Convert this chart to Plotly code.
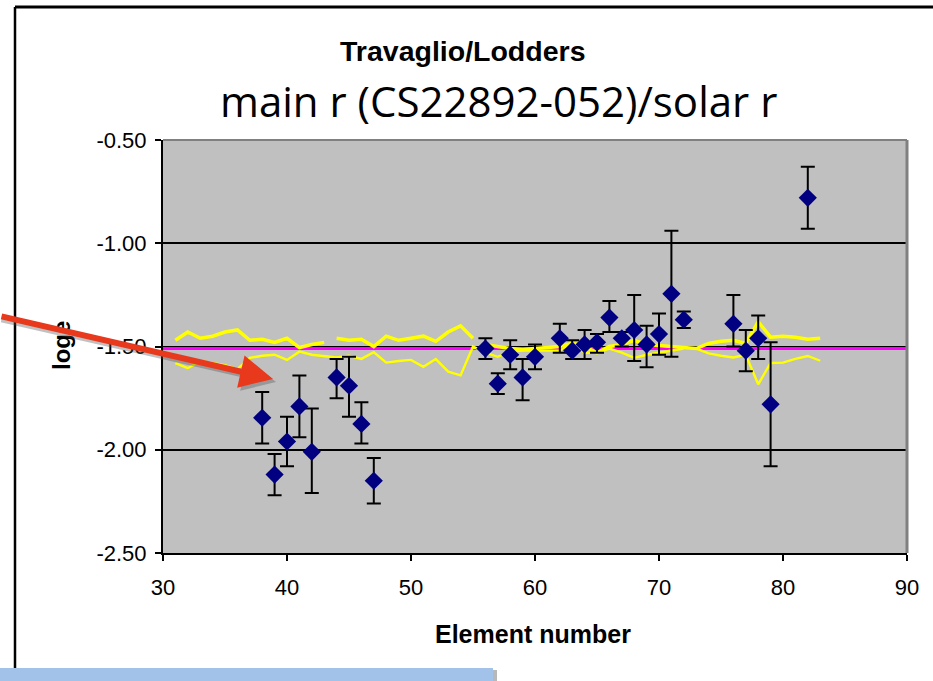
import plotly.graph_objects as go

# ---------------- data ----------------
element = [38, 39, 40, 41, 42, 44, 45, 46, 47, 56, 57, 58, 59, 60, 62, 63, 64, 65,
           66, 67, 68, 69, 70, 71, 72, 76, 77, 78, 79, 82]
log_eps = [-1.845, -2.12, -1.96, -1.79, -2.01, -1.65, -1.69, -1.875, -2.15, -1.51,
           -1.68, -1.54, -1.65, -1.55, -1.46, -1.52, -1.49, -1.48, -1.36, -1.46,
           -1.42, -1.49, -1.44, -1.245, -1.37, -1.39, -1.52, -1.46, -1.78, -0.78]
err_top = [-1.72, -2.02, -1.84, -1.64, -1.80, -1.56, -1.55, -1.77, -2.04, -1.46,
           -1.63, -1.47, -1.56, -1.49, -1.39, -1.47, -1.42, -1.44, -1.28, -1.43,
           -1.25, -1.40, -1.34, -0.94, -1.33, -1.25, -1.42, -1.35, -1.48, -0.63]
err_bot = [-1.97, -2.22, -2.08, -1.94, -2.21, -1.75, -1.84, -1.97, -2.26, -1.56,
           -1.73, -1.61, -1.76, -1.61, -1.53, -1.56, -1.56, -1.53, -1.43, -1.50,
           -1.57, -1.60, -1.54, -1.55, -1.41, -1.50, -1.62, -1.56, -2.08, -0.93]

# yellow band, upper curve (None = gap)
band_hi_z = [31, 32, 33, 34, 35, 36, 37, 38, 39, 40, 41, 42, 43, 43.5, 44, 45, 46, 47,
             48, 49, 50, 51, 52, 53, 54, 55, 55.5, 56, 57, 58, 59, 60, 61, 62, 63, 64,
             65, 66, 67, 68, 69, 70, 71, 72, 73, 74, 75, 76, 77, 78, 79, 80, 81, 82, 83]
band_hi = [-1.47, -1.43, -1.46, -1.45, -1.43, -1.42, -1.47, -1.465, -1.48, -1.46,
           -1.505, -1.49, -1.48, None, -1.46, -1.47, -1.465, -1.50, -1.45, -1.47,
           -1.46, -1.45, -1.475, -1.43, -1.40, -1.46, None, -1.49, -1.50, -1.51,
           -1.515, -1.51, -1.505, -1.50, -1.485, -1.50, -1.53, -1.50, -1.49, -1.47,
           -1.49, -1.495, -1.50, -1.505, -1.51, -1.485, -1.475, -1.47, -1.485,
           -1.38, -1.455, -1.45, -1.455, -1.465, -1.46]
# yellow band, lower curve
band_lo_z = list(range(31, 84))
band_lo = [-1.58, -1.605, -1.57, -1.58, -1.59, -1.61, -1.555, -1.545, -1.54, -1.565,
           -1.525, -1.54, -1.545, -1.553, -1.545, -1.56, -1.528, -1.578, -1.57,
           -1.565, -1.598, -1.561, -1.622, -1.64, -1.50, -1.53, -1.55, -1.525,
           -1.52, -1.52, -1.52, -1.52, -1.48, -1.53, -1.53, -1.51, -1.53, -1.555,
           -1.54, -1.53, -1.517, -1.51, -1.51, -1.533, -1.545, -1.553, -1.54,
           -1.683, -1.58, -1.578, -1.56, -1.546, -1.569]

solar_level = -1.51
x_ticks = [30, 40, 50, 60, 70, 80, 90]
y_ticks = [-2.5, -2.0, -1.5, -1.0, -0.5]
y_ticktext = ["-2.50", "-2.00", "-1.50", "-1.00", "-0.50"]

W, H = 933, 681
L, R, T, B = 163, 26, 140, 128
pw, ph = W - L - R, H - T - B


def px(xp):
    return (xp - L) / pw


def py(yp):
    return (H - B - yp) / ph


fig = go.Figure()

fig.add_trace(go.Scatter(x=[30, 90], y=[solar_level, solar_level], mode="lines",
                         line=dict(color="#FF00FF", width=3), hoverinfo="skip"))
fig.add_trace(go.Scatter(x=band_hi_z, y=band_hi, mode="lines", connectgaps=False,
                         line=dict(color="#FFFF00", width=3.5), hoverinfo="skip"))
fig.add_trace(go.Scatter(x=band_lo_z, y=band_lo, mode="lines",
                         line=dict(color="#FFFF00", width=2.4), hoverinfo="skip"))

plus = [t - v for t, v in zip(err_top, log_eps)]
minus = [v - b for v, b in zip(log_eps, err_bot)]
fig.add_trace(go.Scatter(
    x=element, y=log_eps, mode="markers",
    marker=dict(symbol="diamond", size=14, color="#000080"),
    error_y=dict(type="data", array=plus, arrayminus=minus, symmetric=False,
                 color="black", thickness=2, width=7),
))

axis_font = dict(family="Liberation Sans, Arial, sans-serif", size=22, color="black")

fig.update_layout(
    width=W, height=H,
    margin=dict(l=L, r=R, t=T, b=B),
    paper_bgcolor="white",
    plot_bgcolor="#C0C0C0",
    showlegend=False,
    xaxis=dict(range=[30, 90], tickvals=x_ticks, showgrid=False, zeroline=False,
               showline=True, linecolor="black", linewidth=2,
               ticks="outside", ticklen=6, tickwidth=1.5, tickcolor="black",
               tickfont=axis_font, ticklabelstandoff=8),
    yaxis=dict(range=[-2.5, -0.5], tickvals=y_ticks, ticktext=y_ticktext,
               showgrid=True, gridcolor="black", gridwidth=2, zeroline=False,
               showline=True, linecolor="black", linewidth=2,
               ticks="outside", ticklen=6, tickwidth=1.5, tickcolor="black",
               tickfont=axis_font, ticklabelstandoff=4),
)

shapes = [
    # plot area border (top, right)
    dict(type="line", xref="paper", yref="paper", x0=0, x1=1, y0=1, y1=1,
         line=dict(color="#808080", width=2)),
    dict(type="line", xref="paper", yref="paper", x0=1, x1=1, y0=0, y1=1,
         line=dict(color="#808080", width=3)),
    # outer chart border
    dict(type="line", xref="paper", yref="paper", x0=px(15), x1=px(940),
         y0=py(7), y1=py(7), line=dict(color="black", width=3)),
    dict(type="line", xref="paper", yref="paper", x0=px(15), x1=px(15),
         y0=py(7), y1=py(672), line=dict(color="black", width=2.5)),
    # blue bar at bottom (shadow + box)
    dict(type="rect", xref="paper", yref="paper", x0=px(0), x1=px(497),
         y0=py(690), y1=py(670), fillcolor="#B8B8B8", line=dict(width=0)),
    dict(type="rect", xref="paper", yref="paper", x0=px(0), x1=px(493),
         y0=py(690), y1=py(668), fillcolor="#A3C2E9", line=dict(width=0)),
]
fig.update_layout(shapes=shapes)

annotations = [
    dict(text="<b>Travaglio/Lodders</b>", xref="paper", yref="paper",
         x=px(462), y=py(51), xanchor="center", yanchor="middle", showarrow=False,
         font=dict(family="Liberation Sans, Arial, sans-serif", size=28.5, color="black")),
    dict(text="main r (CS22892-052)/solar r", xref="paper", yref="paper",
         x=px(498), y=py(100), xanchor="center", yanchor="middle", showarrow=False,
         font=dict(family="Open Sans, sans-serif", size=42, color="black")),
    dict(text="<b>loge</b>", xref="paper", yref="paper", textangle=-90,
         x=px(61), y=py(346), xanchor="center", yanchor="middle", showarrow=False,
         font=dict(family="Liberation Sans, Arial, sans-serif", size=24, color="black")),
    dict(text="<b>Element number</b>", xref="paper", yref="paper",
         x=px(533), y=py(634), xanchor="center", yanchor="middle", showarrow=False,
         font=dict(family="Liberation Sans, Arial, sans-serif", size=25, color="black")),
    # red arrow shadow + arrow
    dict(text="", xref="paper", yref="paper", x=px(276), y=py(382),
         ax=-300, ay=-63, showarrow=True, arrowhead=2, arrowsize=1.1,
         arrowwidth=6, arrowcolor="rgba(80,80,80,0.35)"),
    dict(text="", xref="paper", yref="paper", x=px(273), y=py(379),
         ax=-300, ay=-63, showarrow=True, arrowhead=2, arrowsize=1.1,
         arrowwidth=6, arrowcolor="#E8391D"),
]
fig.update_layout(annotations=annotations)

fig.write_html("out.html")
